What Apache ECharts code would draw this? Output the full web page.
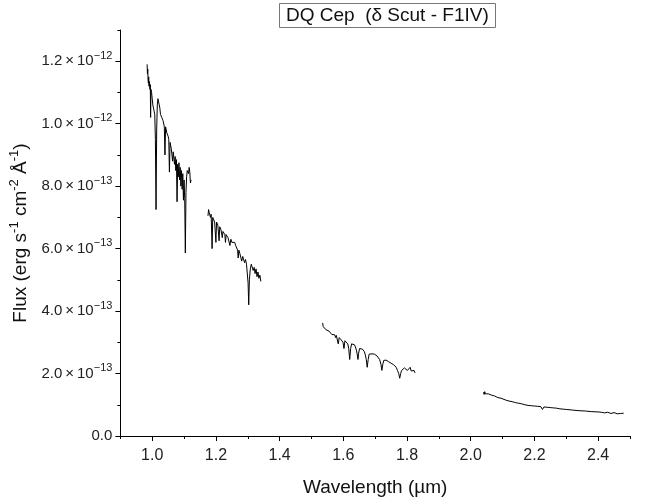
<!DOCTYPE html>
<html>
<head>
<meta charset="utf-8">
<script src="https://cdn.jsdelivr.net/npm/echarts@6/dist/echarts.min.js"></script>
<style>html,body{margin:0;padding:0;background:#fff;}#c{width:647px;height:504px;}</style>
</head>
<body>
<div id="c"></div>
<script>
// ---- Data (wavelength in µm, flux in units of 1e-13 erg s-1 cm-2 Å-1) ----
const xTickLabels = [1.0, 1.2, 1.4, 1.6, 1.8, 2.0, 2.2, 2.4];
const yTickLabels = [0, 2, 4, 6, 8, 10, 12]; // ×1e-13

const wl1 = [0.984,0.985,0.986,0.987,0.988,0.989,0.990,0.991,0.993,0.994,0.995,0.996,0.998,1.000,1.002,1.004,1.006,1.008,1.010,1.012,1.014,1.016,1.018,1.020,1.022,1.024,1.026,1.028,1.030,1.032,1.034,1.036,1.038,1.040,1.042,1.044,1.046,1.048,1.050,1.052,1.054,1.056,1.058,1.060,1.062,1.064,1.066,1.068,1.070,1.072,1.074,1.076,1.078,1.080,1.082,1.084,1.086,1.088,1.090,1.092,1.094,1.096,1.098,1.100,1.102,1.104,1.106,1.108,1.110,1.112,1.114,1.116,1.118,1.120,1.122];
const flux1 = [11.9,11.6,11.75,11.4,11.3,11.5,11.2,11.35,11.1,11.25,10.2,11.1,11.0,10.8,10.6,10.5,10.4,10.3,9.5,7.25,9.8,10.6,10.8,10.75,10.6,10.5,10.3,10.35,10.2,10.25,10.1,10.05,9.9,9.0,9.9,9.8,9.7,9.75,9.6,9.5,8.45,9.4,9.35,9.2,9.25,8.8,9.1,8.9,8.7,8.95,8.5,8.85,7.5,8.7,8.3,8.75,8.2,8.6,8.0,8.5,7.9,8.4,7.55,8.2,7.6,5.86,7.8,8.3,8.5,8.55,8.4,8.6,8.45,8.1,8.2];

const wl2 = [1.175,1.177,1.179,1.181,1.183,1.185,1.188,1.190,1.192,1.194,1.196,1.198,1.200,1.202,1.204,1.206,1.208,1.210,1.212,1.214,1.216,1.218,1.220,1.222,1.224,1.226,1.228,1.230,1.232,1.235,1.238,1.241,1.244,1.247,1.250,1.253,1.256,1.259,1.262,1.265,1.268,1.270,1.272,1.275,1.278,1.281,1.284,1.287,1.290,1.293,1.296,1.299,1.301,1.303,1.305,1.308,1.311,1.314,1.317,1.320,1.323,1.326,1.329,1.332,1.335,1.338,1.341];
const flux2 = [7.05,7.25,7.15,7.2,7.0,7.1,6.0,7.0,6.95,7.0,6.85,6.9,6.2,6.85,6.8,6.75,6.8,6.25,6.7,6.65,6.6,6.65,6.35,6.55,6.5,6.55,6.45,6.2,6.45,6.4,6.35,6.4,6.1,6.3,6.2,6.25,6.15,6.2,6.1,6.05,5.95,5.7,5.95,5.85,5.9,5.6,5.75,5.7,5.55,5.65,5.5,5.45,4.9,4.2,5.0,5.35,5.5,5.45,5.3,5.4,5.2,5.35,5.1,5.25,5.05,5.15,4.95];

const wl3 = [1.535,1.537,1.540,1.543,1.546,1.549,1.552,1.555,1.558,1.561,1.564,1.567,1.570,1.573,1.576,1.578,1.581,1.584,1.587,1.590,1.593,1.596,1.599,1.602,1.605,1.608,1.611,1.614,1.617,1.620,1.623,1.626,1.629,1.632,1.635,1.638,1.641,1.644,1.646,1.648,1.651,1.654,1.657,1.660,1.663,1.666,1.669,1.672,1.675,1.678,1.681,1.684,1.687,1.690,1.694,1.698,1.702,1.706,1.710,1.714,1.718,1.721,1.724,1.727,1.730,1.734,1.738,1.742,1.746,1.750,1.754,1.758,1.762,1.766,1.770,1.774,1.777,1.780,1.783,1.786,1.789,1.792,1.795,1.798,1.801,1.804,1.807,1.810,1.813,1.816,1.819,1.822,1.825];
const flux3 = [3.62,3.5,3.45,3.48,3.4,3.42,3.35,3.36,3.3,3.32,3.25,3.28,3.2,3.24,3.15,3.22,3.18,2.95,3.15,3.12,3.08,3.12,3.0,2.8,3.05,3.08,3.03,2.95,2.8,2.45,2.8,2.95,3.0,2.97,2.92,2.85,2.75,2.6,2.45,2.65,2.8,2.85,2.82,2.78,2.75,2.7,2.6,2.45,2.2,2.45,2.62,2.66,2.65,2.63,2.6,2.62,2.58,2.56,2.5,2.45,2.3,2.1,2.3,2.42,2.45,2.43,2.4,2.38,2.35,2.33,2.32,2.28,2.25,2.2,2.1,2.0,1.85,2.0,2.1,2.15,2.1,2.18,2.12,2.2,2.1,2.15,2.05,2.2,2.08,2.12,2.05,2.1,2.02];

const wl4 = [2.040,2.042,2.044,2.046,2.048,2.050,2.055,2.060,2.065,2.070,2.075,2.080,2.085,2.090,2.095,2.100,2.110,2.120,2.130,2.140,2.150,2.160,2.170,2.180,2.190,2.200,2.210,2.220,2.225,2.230,2.240,2.250,2.260,2.270,2.280,2.290,2.300,2.320,2.340,2.360,2.380,2.400,2.410,2.420,2.430,2.440,2.450,2.460,2.465,2.470,2.475,2.480];
const flux4 = [1.40,1.33,1.42,1.35,1.38,1.33,1.35,1.30,1.31,1.27,1.28,1.24,1.23,1.20,1.21,1.17,1.15,1.12,1.10,1.07,1.05,1.03,1.00,0.98,0.97,0.96,0.95,0.94,0.85,0.93,0.92,0.91,0.90,0.89,0.87,0.86,0.85,0.83,0.81,0.80,0.78,0.77,0.76,0.74,0.76,0.72,0.75,0.71,0.76,0.72,0.75,0.73];

// ---- Build ----
const FONT = '"Liberation Sans", Arial, sans-serif';
function pairs(x, y) { return x.map((v, i) => [v, y[i]]); }
function mkSeries(x, y) {
  return { type: 'line', xAxisIndex: 0, yAxisIndex: 0, data: pairs(x, y), showSymbol: false, symbol: 'none',
    lineStyle: { color: '#000', width: 1 }, animation: false, silent: true };
}
function yFmt(v) {
  if (Math.abs(v) < 1e-9) return '{m|0.0}';
  if (v >= 10) return '{m|' + (v / 10).toFixed(1) + '\u2009×\u200910}{e|−12}';
  return '{m|' + v.toFixed(1) + '\u2009×\u200910}{e|−13}';
}
const chart = echarts.init(document.getElementById('c'), null, { renderer: 'canvas' });
const axisCommon = { lineStyle: { color: '#000', width: 1 } };
chart.setOption({
  backgroundColor: '#fff',
  animation: false,
  title: {
    text: 'DQ Cep  (δ Scut - F1IV)', left: 279, top: 3,
    borderColor: '#777', borderWidth: 1, padding: [3, 7, 3, 7],
    textStyle: { fontFamily: FONT, fontSize: 19, lineHeight: 19, fontWeight: 'normal', color: '#111' }
  },
  grid: { left: 119, right: 17, top: 30, bottom: 68, containLabel: false },
  xAxis: [
    {
      type: 'value', min: 0.9, max: 2.5, position: 'bottom',
      axisLine: { show: true, ...axisCommon },
      axisTick: { show: true, length: 5, customValues: xTickLabels, lineStyle: { color: '#000' } },
      axisLabel: { customValues: xTickLabels, formatter: v => v.toFixed(1), fontFamily: FONT, fontSize: 16, color: '#222', margin: 12 },
      splitLine: { show: false },
      name: 'Wavelength (µm)', nameLocation: 'middle', nameGap: 42,
      nameTextStyle: { fontFamily: FONT, fontSize: 19, color: '#111' }
    },
    {
      type: 'value', min: 0.9, max: 2.5, interval: 0.1, position: 'bottom',
      axisLine: { show: false }, axisLabel: { show: false }, splitLine: { show: false },
      axisTick: { show: true, length: 3, lineStyle: { color: '#000' } }
    }
  ],
  yAxis: [
    {
      type: 'value', min: 0, max: 13, position: 'left',
      axisLine: { show: true, ...axisCommon },
      axisTick: { show: true, length: 5, customValues: yTickLabels, lineStyle: { color: '#000' } },
      axisLabel: {
        customValues: yTickLabels, formatter: yFmt, margin: 8, color: '#222',
        rich: {
          m: { fontFamily: FONT, fontSize: 15, color: '#222', lineHeight: 22 },
          e: { fontFamily: FONT, fontSize: 11, color: '#222', verticalAlign: 'top', lineHeight: 13 }
        }
      },
      splitLine: { show: false },
      name: '{t|Flux (erg s}{s|-1}{t| cm}{s|-2}{t| Å}{s|-1}{t|)}',
      nameLocation: 'middle', nameGap: 66, nameRotate: 90,
      nameTextStyle: {
        rich: {
          t: { fontFamily: FONT, fontSize: 19, color: '#111', lineHeight: 26 },
          s: { fontFamily: FONT, fontSize: 13, color: '#111', verticalAlign: 'top', lineHeight: 15 }
        }
      }
    },
    {
      type: 'value', min: 0, max: 13, interval: 1, position: 'left',
      axisLine: { show: false }, axisLabel: { show: false }, splitLine: { show: false },
      axisTick: { show: true, length: 3, lineStyle: { color: '#000' } }
    }
  ],
  series: [mkSeries(wl1, flux1), mkSeries(wl2, flux2), mkSeries(wl3, flux3), mkSeries(wl4, flux4)]
});
</script>
</body>
</html>
